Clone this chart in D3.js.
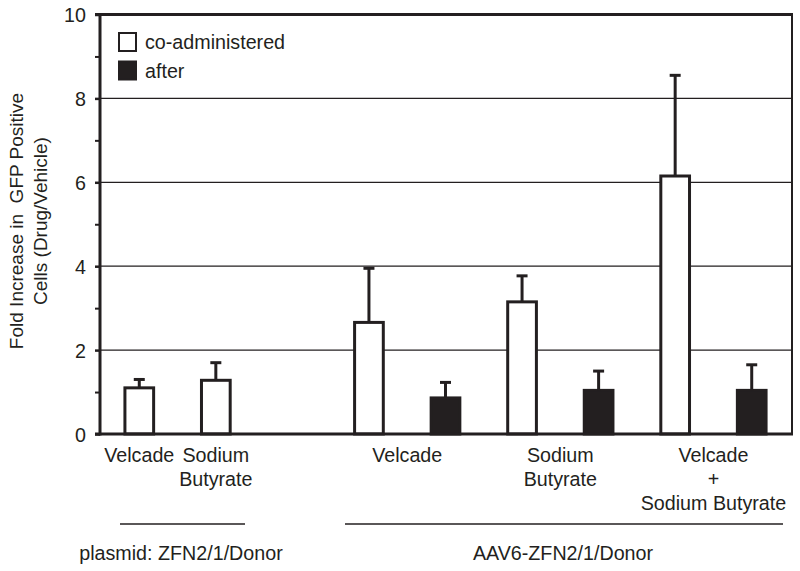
<!DOCTYPE html>
<html><head><meta charset="utf-8">
<script src="https://cdn.jsdelivr.net/npm/d3@7"></script>
<style>
html,body{margin:0;padding:0;background:#fff;}
text{font-family:"Liberation Sans",Arial,Helvetica,sans-serif;fill:#231f20;}
</style></head>
<body><svg id="chart" width="800" height="571"></svg>
<script>
// ---- data ----
const categories = ["Velcade", "Sodium\nButyrate", "Velcade", "Sodium\nButyrate", "Velcade\n+\nSodium Butyrate"];
const constructs = ["plasmid: ZFN2/1/Donor", "AAV6-ZFN2/1/Donor"];
const categoryConstruct = [0, 0, 1, 1, 1];
const coAdministered = [1.1, 1.28, 2.66, 3.15, 6.15];
const coAdministeredErr = [0.2, 0.42, 1.29, 0.62, 2.4];
const after = [null, null, 0.86, 1.04, 1.04];
const afterErr = [null, null, 0.37, 0.46, 0.61];
const seriesNames = ["co-administered", "after"];
const yTicks = [0, 2, 4, 6, 8, 10];
const yMinorTicks = [1, 3, 5, 7, 9];
const yLabel = ["Fold Increase in  GFP Positive", "Cells (Drug/Vehicle)"];

// ---- build slots ----
const slots = [];
const bars = [];
categories.forEach((c, i) => {
  if (i > 0 && categoryConstruct[i] !== categoryConstruct[i - 1]) slots.push("gap" + i);
  const s1 = "c" + i + "co"; slots.push(s1);
  bars.push({slot: s1, v: coAdministered[i], e: coAdministeredErr[i], series: 0, cat: i});
  if (after[i] != null) {
    const s2 = "c" + i + "af"; slots.push(s2);
    bars.push({slot: s2, v: after[i], e: afterErr[i], series: 1, cat: i});
  }
});

const svg = d3.select("#chart");
const ink = "#231f20";
const fs = 19.7;
const plotL = 100, plotR = 792, plotT = 14.5, plotB = 434;
const y = d3.scaleLinear().domain([0, 10]).range([plotB, plotT]);
const x = d3.scaleBand().domain(slots).range([101, 790]).paddingInner(0.625).paddingOuter(0.3125);

// gridlines
svg.append("g").selectAll("line").data(yTicks.filter(t => t > 0 && t < 10)).join("line")
  .attr("x1", plotL).attr("x2", plotR).attr("y1", d => y(d)).attr("y2", d => y(d))
  .attr("stroke", ink).attr("stroke-width", 1.3);

// bars
const bw = x.bandwidth();
svg.append("g").selectAll("rect").data(bars).join("rect")
  .attr("x", d => x(d.slot)).attr("width", bw)
  .attr("y", d => y(d.v)).attr("height", d => y(0) - y(d.v))
  .attr("fill", d => d.series === 0 ? "#fff" : ink)
  .attr("stroke", ink).attr("stroke-width", 3);

// error bars
const eg = svg.append("g");
eg.selectAll("line.v").data(bars).join("line").attr("class", "v")
  .attr("x1", d => x(d.slot) + bw / 2).attr("x2", d => x(d.slot) + bw / 2)
  .attr("y1", d => y(d.v)).attr("y2", d => y(d.v + d.e))
  .attr("stroke", ink).attr("stroke-width", 3);
eg.selectAll("line.c").data(bars).join("line").attr("class", "c")
  .attr("x1", d => x(d.slot) + bw / 2 - 5.5).attr("x2", d => x(d.slot) + bw / 2 + 5.5)
  .attr("y1", d => y(d.v + d.e)).attr("y2", d => y(d.v + d.e))
  .attr("stroke", ink).attr("stroke-width", 3);

// axes frame
const yAxis = d3.axisLeft(y).tickValues(yTicks).tickSize(5).tickPadding(9).tickFormat(d3.format("d"));
const ya = svg.append("g").attr("transform", `translate(${plotL},0)`).call(yAxis);
ya.select(".domain").remove();
ya.selectAll(".tick line").attr("stroke", ink).attr("stroke-width", 2.5);
ya.selectAll(".tick text").attr("font-size", fs).attr("fill", ink).attr("dy", "0.36em");
const yMinor = d3.axisLeft(y).tickValues(yMinorTicks).tickSize(5).tickFormat("");
const ym = svg.append("g").attr("transform", `translate(${plotL},0)`).call(yMinor);
ym.select(".domain").remove();
ym.selectAll(".tick line").attr("stroke", ink).attr("stroke-width", 2);

svg.append("line").attr("x1", plotL).attr("x2", plotL).attr("y1", plotT - 1.5).attr("y2", plotB + 1.5)
  .attr("stroke", ink).attr("stroke-width", 3);
svg.append("line").attr("x1", plotL - 5).attr("x2", plotR + 1).attr("y1", plotB).attr("y2", plotB)
  .attr("stroke", ink).attr("stroke-width", 3);
svg.append("line").attr("x1", plotL - 5).attr("x2", plotR + 1).attr("y1", plotT).attr("y2", plotT)
  .attr("stroke", ink).attr("stroke-width", 3);
svg.append("line").attr("x1", plotR).attr("x2", plotR).attr("y1", plotT).attr("y2", plotB)
  .attr("stroke", ink).attr("stroke-width", 2);

// y label
const yl = svg.append("text").attr("transform", "translate(23,221) rotate(-90)")
  .attr("text-anchor", "middle").attr("font-size", 19).style("white-space", "pre");
yl.append("tspan").attr("x", 0).attr("y", 0).text(yLabel[0]);
yl.append("tspan").attr("x", 0).attr("y", 24).text(yLabel[1]);

// category labels
categories.forEach((c, i) => {
  const ss = bars.filter(b => b.cat === i);
  const cx = d3.mean(ss, b => x(b.slot) + bw / 2);
  const t = svg.append("text").attr("text-anchor", "middle").attr("font-size", fs);
  c.split("\n").forEach((ln, k) => {
    t.append("tspan").attr("x", cx).attr("y", 462 + k * 24).text(ln);
  });
});

// construct brackets
const brackets = [[120, 245, 181], [345, 783, 563]];
constructs.forEach((c, i) => {
  const b = brackets[i];
  svg.append("line").attr("x1", b[0]).attr("x2", b[1]).attr("y1", 524).attr("y2", 524)
    .attr("stroke", ink).attr("stroke-width", 1.5);
  svg.append("text").attr("x", b[2]).attr("y", 560).attr("text-anchor", "middle")
    .attr("font-size", fs).text(c);
});

// legend
const lg = svg.append("g");
seriesNames.forEach((s, i) => {
  lg.append("rect").attr("x", 119).attr("y", 33 + i * 28.5).attr("width", 17).attr("height", 18)
    .attr("fill", i === 0 ? "#fff" : ink).attr("stroke", ink).attr("stroke-width", 2);
  lg.append("text").attr("x", 145).attr("y", 49 + i * 28.5).attr("font-size", fs).text(s);
});
</script></body></html>
